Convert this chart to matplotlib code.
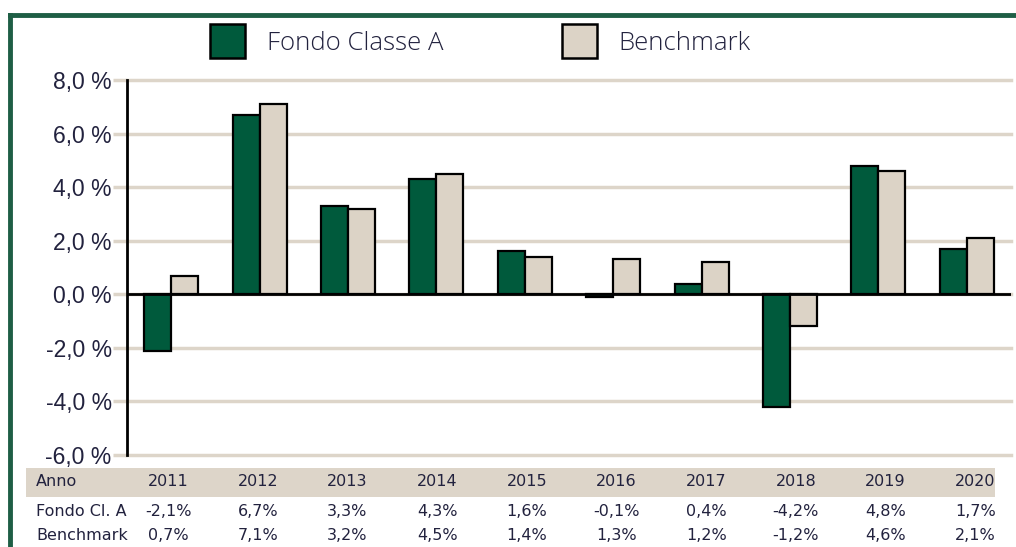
import matplotlib
matplotlib.use("Agg")
import matplotlib.pyplot as plt
from matplotlib.patches import Rectangle
from matplotlib.lines import Line2D
import numpy as np

years = ["2011", "2012", "2013", "2014", "2015", "2016", "2017", "2018", "2019", "2020"]
fondo = [-2.1, 6.7, 3.3, 4.3, 1.6, -0.1, 0.4, -4.2, 4.8, 1.7]
benchmark = [0.7, 7.1, 3.2, 4.5, 1.4, 1.3, 1.2, -1.2, 4.6, 2.1]
series_names = ["Fondo Classe A", "Benchmark"]
row_labels = ["Anno", "Fondo Cl. A", "Benchmark"]
yticks = [-6, -4, -2, 0, 2, 4, 6, 8]

GREEN = "#005a3c"
BEIGE = "#dcd3c6"
GRID = "#ddd5c9"
TXT = "#22223e"
BORDER = "#1e5e45"

W, H = 1016, 547
fig = plt.figure(figsize=(W / 100, H / 100), dpi=100)

def fx(px):
    return px / W

def fy(py):
    return 1 - py / H

ax = fig.add_axes([fx(127), fy(455), fx(1011) - fx(127), fy(80) - fy(455)])
x = np.arange(len(years))
bw = 0.305
ax.bar(x - bw / 2, fondo, bw, color=GREEN, edgecolor="black", linewidth=1.6, zorder=3)
ax.bar(x + bw / 2, benchmark, bw, color=BEIGE, edgecolor="black", linewidth=1.6, zorder=3)
ax.set_xlim(-0.5, len(years) - 0.5)
ax.set_ylim(-6, 8)
ax.set_yticks(yticks)
ax.set_yticklabels([f"{v:.1f} %".replace(".", ",") for v in yticks],
                   fontsize=16.5, color=TXT, family=["Liberation Sans", "DejaVu Sans"])
ax.tick_params(axis="y", length=10, width=2.5, color=GRID, pad=1)
ax.set_xticks([])
ax.grid(axis="y", color=GRID, linewidth=2.5, zorder=0)
for gl in ax.get_ygridlines():
    gl.set_clip_on(False)
ax.axhline(0, color="black", linewidth=2, zorder=4)
for s in ["top", "right", "bottom"]:
    ax.spines[s].set_visible(False)
ax.spines["left"].set_linewidth(2)
ax.spines["left"].set_zorder(5)

# Border
fig.add_artist(Line2D([fx(10), fx(10)], [0, fy(15)], color=BORDER, linewidth=3.5))
fig.add_artist(Line2D([fx(10), 1], [fy(15), fy(15)], color=BORDER, linewidth=3.5))

# Legend
legend_items = [(210, 267, GREEN), (562, 618, BEIGE)]
for (bx, tx, col), name in zip(legend_items, series_names):
    fig.add_artist(Rectangle((fx(bx), fy(58)), fx(35), 34 / H, transform=fig.transFigure,
                             facecolor=col, edgecolor="black", linewidth=1.8))
    fig.text(fx(tx), fy(43), name, fontsize=18.5, color=TXT, va="center", ha="left",
             family=["Open Sans", "DejaVu Sans"], weight="light")

# Table
fig.add_artist(Rectangle((fx(26), fy(497)), fx(995) - fx(26), 29 / H, transform=fig.transFigure,
                         facecolor=GRID, edgecolor="none"))
tfam = ["Liberation Sans Narrow", "DejaVu Sans"]
rows_y = [482, 512, 535]
for lbl, yy in zip(row_labels, rows_y):
    fig.text(fx(36), fy(yy), lbl, fontsize=11.5, color=TXT, va="center", ha="left", family=tfam)

def fmt(v):
    return f"{v:.1f}%".replace(".", ",")

for i, yr in enumerate(years):
    cx = fx(168 + 89.7 * i)
    fig.text(cx, fy(rows_y[0]), yr, fontsize=11.5, color=TXT, va="center", ha="center", family=tfam)
    fig.text(cx, fy(rows_y[1]), fmt(fondo[i]), fontsize=11.5, color=TXT, va="center", ha="center", family=tfam)
    fig.text(cx, fy(rows_y[2]), fmt(benchmark[i]), fontsize=11.5, color=TXT, va="center", ha="center", family=tfam)

fig.savefig("out.png", dpi=100)
